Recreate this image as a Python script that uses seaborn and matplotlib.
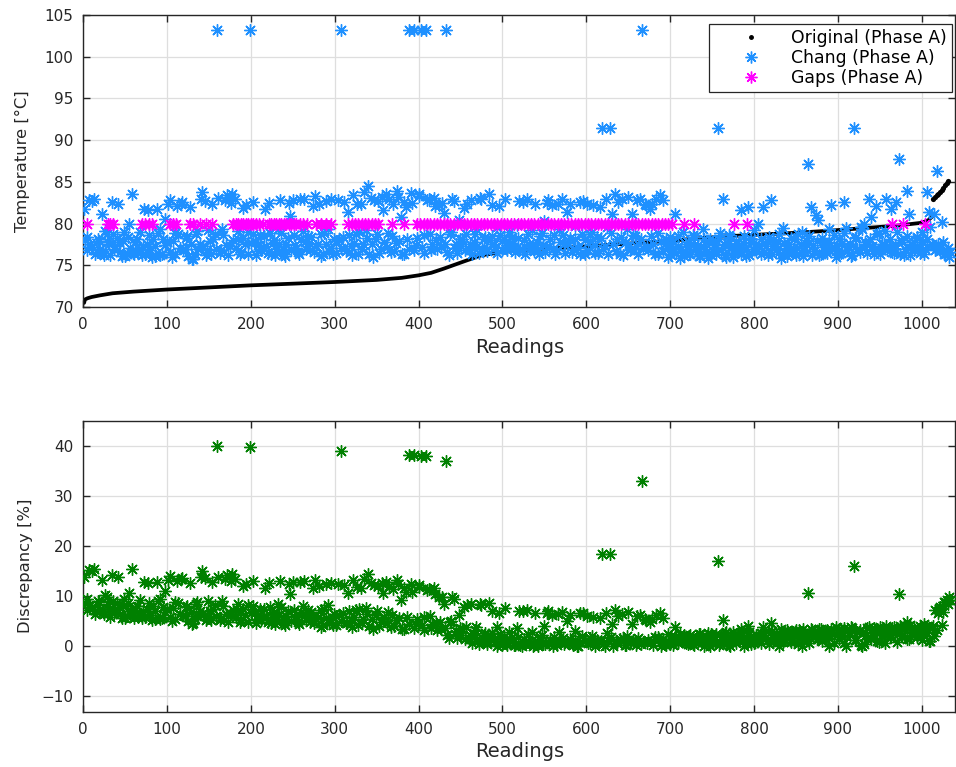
import numpy as np
import matplotlib
matplotlib.use("Agg")
import matplotlib.pyplot as plt
from matplotlib.lines import Line2D
import seaborn as sns

# ---- data ----

# Original (Phase A): sorted curve, read at its bends
orig_readings = [1, 2, 5, 10, 20, 35, 60, 100, 150, 200, 250, 300, 350, 380, 400,
                 415, 430, 455, 475, 500, 540, 590, 650, 700, 730, 770, 810, 850,
                 890, 930, 970, 1000, 1008, 1013]
orig_temp = [70.5, 70.9, 71.05, 71.2, 71.4, 71.65, 71.85, 72.1, 72.35, 72.6, 72.8,
             73.0, 73.25, 73.5, 73.8, 74.1, 74.6, 75.5, 76.2, 76.6, 76.95, 77.2,
             77.6, 77.95, 78.2, 78.5, 78.7, 78.9, 79.15, 79.45, 79.75, 80.1, 80.4, 80.9]
# the last readings jump up and show as separate dots
orig_tail_readings = [1014, 1016, 1018, 1020, 1022, 1024, 1026, 1028, 1030, 1031]
orig_tail_temp = [83.0, 83.2, 83.4, 83.6, 83.8, 84.0, 84.3, 84.6, 84.9, 85.1]

# Chang (Phase A) and discrepancy at readings 1, 4, 7, ...
readings_a = np.arange(1, 1036, 3)
chang_temp_a = [
    81.8, 78.4, 82.8, 77.2, 82.9, 76.6, 77.9, 81.2, 76.2, 78.8,
    77.5, 82.6, 76.9, 78.3, 77.8, 76.1, 79.0, 76.4, 79.9, 83.6,
    76.3, 78.1, 77.0, 76.2, 81.8, 77.6, 78.6, 76.0, 77.3, 81.8,
    79.3, 76.4, 80.6, 77.8, 82.8, 76.0, 78.9, 82.1, 77.1, 82.6,
    76.9, 78.5, 82.0, 75.7, 76.4, 79.1, 77.6, 83.8, 82.7, 76.8,
    77.9, 82.3, 78.7, 103.2, 76.5, 79.4, 82.8, 83.4, 77.3, 83.5,
    82.9, 78.2, 76.3, 81.9, 77.5, 79.0, 103.2, 82.6, 77.8, 76.7,
    78.6, 77.2, 81.8, 76.5, 78.9, 77.7, 76.2, 79.3, 82.8, 77.0,
    76.1, 78.3, 80.9, 82.8, 77.4, 76.6, 82.9, 79.1, 77.8, 78.5,
    76.8, 82.1, 83.3, 77.6, 78.7, 76.4, 82.7, 79.4, 77.1, 76.3,
    77.9, 82.8, 103.2, 78.4, 76.7, 81.4, 77.3, 83.4, 78.8, 76.4,
    82.3, 77.5, 79.2, 84.5, 83.1, 76.0, 78.2, 82.7, 77.0, 81.6,
    83.6, 78.9, 76.6, 82.4, 77.7, 83.2, 80.8, 76.3, 82.0, 103.2,
    83.7, 103.2, 77.4, 83.5, 103.2, 78.6, 103.2, 82.9, 76.8, 83.1,
    78.0, 82.2, 77.2, 81.3, 103.2, 76.2, 79.0, 82.7, 77.6, 80.4,
    77.3, 81.9, 78.8, 76.9, 82.8, 77.8, 79.3, 76.5, 82.9, 78.1,
    77.0, 83.5, 78.5, 77.6, 79.6, 82.1, 76.8, 78.2, 77.4, 79.0,
    78.4, 77.1, 79.8, 82.7, 76.9, 78.0, 82.9, 77.5, 79.2, 76.7,
    77.8, 76.4, 78.9, 80.3, 82.5, 77.3, 82.2, 78.6, 76.8, 79.4,
    82.9, 77.6, 81.4, 78.3, 76.6, 79.7, 77.2, 82.6, 78.8, 76.3,
    82.4, 77.9, 79.0, 76.5, 78.4, 82.0, 91.4, 77.3, 79.6, 91.4,
    81.2, 83.6, 78.1, 76.4, 83.0, 77.7, 79.3, 76.8, 81.2, 78.5,
    82.8, 83.0, 103.2, 82.4, 77.2, 81.8, 82.4, 76.3, 78.9, 83.4,
    82.8, 77.6, 76.0, 78.4, 76.9, 81.2, 77.3, 75.9, 79.0, 76.6,
    77.8, 76.3, 78.6, 76.9, 77.4, 76.1, 79.3, 77.0, 75.9, 78.1,
    76.7, 77.9, 91.4, 78.9, 82.9, 76.2, 77.5, 78.4, 76.0, 77.2,
    76.6, 81.6, 77.7, 76.1, 82.0, 78.2, 76.9, 77.5, 80.0, 76.4,
    82.0, 77.3, 76.2, 82.8, 78.0, 76.8, 77.9, 75.9, 79.5, 77.1,
    76.5, 78.3, 77.0, 76.2, 78.7, 77.6, 76.1, 78.0, 87.1, 82.0,
    77.4, 81.0, 80.4, 76.3, 77.8, 76.7, 79.3, 82.2, 77.1, 76.0,
    78.1, 76.5, 82.6, 79.5, 77.2, 76.1, 91.4, 78.4, 77.0, 79.6,
    80.0, 77.6, 82.9, 80.8, 76.4, 82.1, 78.9, 76.8, 77.5, 83.0,
    77.3, 81.8, 76.5, 82.6, 87.7, 78.0, 76.2, 83.9, 81.1, 77.4,
    76.8, 78.3, 77.1, 79.0, 76.4, 83.8, 81.4, 77.6, 81.2, 86.3,
    77.0, 80.2, 76.3, 76.5, 76.0,
]
discrepancy_a = [
    13.8, 9.4, 15.1, 7.8, 15.3, 7.1, 8.8, 13.1, 6.5, 9.9,
    7.5, 14.1, 6.7, 8.6, 7.9, 5.7, 9.5, 6.1, 10.6, 15.4,
    5.7, 8.0, 6.6, 5.6, 12.8, 7.4, 8.7, 5.3, 7.0, 12.8,
    9.4, 5.6, 11.0, 7.4, 13.9, 5.1, 8.8, 13.0, 6.5, 13.6,
    6.1, 8.1, 12.6, 4.5, 5.4, 8.9, 7.0, 14.9, 13.5, 5.9,
    7.1, 12.8, 8.2, 40.0, 5.3, 9.1, 13.4, 14.2, 6.4, 14.3,
    13.3, 7.2, 4.8, 12.0, 6.3, 8.3, 39.8, 12.9, 6.7, 5.3,
    7.5, 5.8, 11.6, 4.9, 7.9, 6.4, 4.5, 8.4, 12.9, 5.5,
    4.2, 7.0, 10.3, 12.7, 5.8, 4.8, 12.8, 8.0, 6.3, 7.2,
    4.8, 11.6, 13.1, 5.9, 7.3, 4.3, 12.4, 8.2, 5.2, 4.2,
    6.1, 12.3, 39.0, 6.7, 4.6, 10.6, 5.3, 13.1, 7.3, 4.2,
    11.5, 5.4, 7.6, 14.3, 12.5, 3.5, 6.3, 12.0, 4.8, 10.6,
    12.8, 6.8, 3.9, 11.3, 5.3, 12.3, 9.2, 3.5, 10.8, 38.2,
    12.3, 38.2, 4.4, 12.1, 37.9, 5.9, 37.9, 11.3, 3.6, 11.6,
    4.6, 9.8, 3.4, 8.4, 37.0, 1.7, 5.0, 9.4, 3.0, 6.3,
    2.3, 7.9, 3.9, 1.4, 8.5, 2.2, 3.9, 0.4, 8.2, 2.3,
    0.9, 8.7, 2.6, 1.4, 3.8, 6.7, 0.2, 1.9, 0.9, 2.8,
    1.9, 0.3, 3.6, 7.1, 0.1, 1.4, 7.3, 0.8, 2.8, 0.2,
    1.0, 0.7, 2.3, 4.0, 6.6, 0.4, 6.3, 1.9, 0.2, 2.9,
    6.9, 0.5, 5.1, 1.4, 0.7, 3.1, 0.1, 6.6, 2.0, 1.0,
    6.1, 0.7, 2.0, 1.0, 1.3, 5.6, 18.3, 0.1, 2.7, 18.3,
    4.4, 7.3, 0.7, 1.4, 6.5, 0.2, 2.1, 0.9, 4.4, 1.1,
    6.0, 6.2, 33.0, 5.5, 0.7, 4.8, 5.5, 1.8, 1.3, 6.7,
    5.7, 0.5, 2.4, 0.5, 1.3, 3.8, 0.8, 2.5, 1.2, 1.7,
    0.5, 2.3, 0.5, 1.5, 1.0, 2.5, 1.3, 1.4, 2.7, 0.1,
    2.0, 0.6, 17.0, 0.6, 5.3, 2.6, 1.1, 0.0, 2.8, 1.4,
    2.4, 3.5, 1.1, 3.0, 4.0, 0.5, 2.0, 1.3, 1.7, 2.6,
    3.8, 1.8, 3.1, 4.7, 0.9, 2.4, 1.1, 3.4, 0.8, 2.0,
    2.9, 0.8, 2.4, 3.3, 0.4, 1.6, 3.4, 1.2, 10.5, 3.5,
    2.1, 2.1, 1.4, 3.4, 1.6, 2.9, 0.1, 3.5, 2.5, 3.8,
    1.5, 3.4, 3.7, 0.1, 2.6, 3.9, 16.0, 1.2, 2.8, 0.2,
    0.5, 2.3, 3.9, 1.4, 3.7, 2.9, 0.8, 3.3, 2.5, 4.0,
    2.9, 2.3, 3.8, 3.3, 10.3, 2.1, 4.2, 4.8, 1.5, 2.8,
    3.7, 2.0, 3.4, 1.3, 4.4, 4.1, 1.1, 3.7, 2.1, 3.2,
    7.4, 4.2, 8.9, 9.2, 9.9,
]

# Chang (Phase A) and discrepancy at readings 2, 5, 8, ...
readings_b = np.arange(2, 1036, 3)
chang_temp_b = [
    78.0, 76.8, 77.6, 82.7, 76.3, 78.2, 77.0, 76.5, 79.1, 77.8,
    76.2, 78.7, 77.3, 82.3, 76.6, 77.9, 76.1, 78.4, 77.1, 76.5,
    77.8, 76.5, 79.0, 77.2, 76.4, 81.6, 76.8, 78.2, 76.1, 78.9,
    76.2, 78.1, 77.4, 82.3, 76.6, 77.9, 76.3, 78.7, 82.4, 76.9,
    78.3, 76.1, 77.5, 75.8, 78.8, 76.9, 82.9, 77.3, 76.2, 79.2,
    76.4, 78.1, 77.0, 83.1, 76.8, 78.6, 77.4, 76.2, 82.5, 78.0,
    77.1, 79.1, 76.6, 78.3, 82.2, 76.4, 77.7, 78.8, 76.2, 77.4,
    76.8, 78.5, 77.3, 82.5, 76.4, 78.0, 76.9, 77.6, 78.9, 76.3,
    77.6, 82.5, 76.8, 78.6, 77.1, 76.4, 78.2, 83.0, 76.9, 77.7,
    78.4, 76.6, 77.3, 82.4, 76.1, 78.9, 77.5, 76.7, 82.9, 78.1,
    76.5, 78.0, 77.1, 82.6, 76.8, 78.6, 76.2, 77.7, 82.3, 79.0,
    76.9, 83.8, 78.3, 76.4, 77.6, 82.8, 78.8, 76.5, 83.2, 77.8,
    77.2, 82.9, 78.5, 76.7, 83.9, 77.9, 76.3, 82.6, 78.1, 77.0,
    82.5, 76.8, 78.3, 83.3, 77.2, 76.5, 82.8, 78.7, 77.5, 82.1,
    76.9, 78.4, 82.5, 77.5, 76.6, 78.8, 83.0, 77.1, 76.5, 78.2,
    78.2, 76.8, 82.4, 77.6, 76.4, 78.7, 77.3, 83.1, 76.9, 78.4,
    76.7, 78.0, 82.2, 77.2, 76.5, 78.6, 77.9, 83.0, 76.8, 77.6,
    77.7, 76.6, 78.3, 77.0, 82.6, 76.4, 78.8, 77.3, 76.9, 82.4,
    76.9, 78.5, 77.4, 76.6, 82.8, 78.1, 77.0, 76.3, 82.3, 77.8,
    78.6, 76.5, 77.7, 82.4, 76.9, 78.2, 77.1, 76.4, 82.7, 78.0,
    76.8, 78.7, 82.2, 77.4, 76.5, 78.3, 77.0, 82.9, 76.3, 78.9,
    77.6, 76.7, 82.6, 78.4, 76.2, 77.8, 83.2, 76.9, 78.6, 77.3,
    76.4, 78.2, 77.1, 82.2, 76.8, 78.5, 77.6, 83.0, 76.3, 77.9,
    76.7, 78.2, 77.1, 76.2, 77.8, 76.5, 78.5, 77.0, 76.1, 77.5,
    76.4, 77.6, 78.4, 76.9, 76.1, 77.3, 78.1, 76.6, 77.8, 76.2,
    77.4, 76.3, 78.2, 76.8, 77.6, 76.0, 78.6, 77.1, 76.5, 77.9,
    77.2, 76.4, 78.5, 77.0, 76.2, 77.8, 79.2, 76.7, 77.4, 78.1,
    76.6, 77.9, 78.4, 76.3, 77.5, 76.9, 78.7, 76.4, 77.7, 76.1,
    77.6, 76.5, 78.2, 77.1, 76.3, 79.0, 76.8, 77.4, 78.5, 76.2,
    76.7, 77.9, 76.2, 78.3, 77.2, 76.5, 77.8, 76.9, 78.6, 77.3,
    76.4, 77.7, 78.9, 76.8, 77.5, 76.2, 78.3, 77.0, 76.6, 79.3,
    77.8, 76.5, 78.1, 77.3, 76.9, 78.7, 76.3, 77.6, 79.1, 76.8,
    78.2, 76.6, 77.4, 79.0, 76.4, 77.8, 76.9, 78.5, 76.2, 77.6,
    77.1, 78.4, 76.5, 77.8, 76.9, 78.1, 79.6, 77.3, 76.8, 77.5,
    76.7, 77.8, 76.4, 77.1, 76.6,
]
discrepancy_b = [
    8.7, 7.2, 8.2, 14.9, 6.5, 9.0, 7.4, 6.8, 10.2, 8.5,
    5.8, 9.1, 7.3, 13.7, 6.4, 8.0, 5.7, 8.7, 7.0, 6.2,
    7.6, 5.9, 9.2, 6.9, 5.8, 12.5, 6.3, 8.1, 5.4, 9.1,
    5.4, 7.8, 6.9, 13.2, 5.9, 7.6, 5.5, 8.6, 13.4, 6.3,
    7.9, 5.0, 6.8, 4.6, 8.5, 6.1, 13.8, 6.6, 5.2, 9.0,
    5.2, 7.4, 6.0, 13.8, 5.7, 8.0, 6.5, 4.9, 13.0, 7.3,
    5.8, 8.4, 5.2, 7.4, 12.4, 4.9, 6.6, 8.0, 4.7, 6.2,
    5.2, 7.4, 5.9, 12.5, 4.7, 6.8, 5.4, 6.3, 7.9, 4.6,
    6.1, 12.3, 5.0, 7.3, 5.4, 4.5, 6.8, 13.0, 5.2, 6.2,
    6.9, 4.6, 5.5, 12.0, 3.9, 7.5, 5.7, 4.7, 12.6, 6.5,
    4.3, 6.2, 5.1, 12.1, 4.7, 7.0, 3.9, 5.9, 11.7, 7.5,
    4.6, 13.4, 6.4, 4.0, 5.5, 12.1, 7.0, 4.1, 12.6, 5.8,
    4.7, 11.9, 6.3, 4.0, 13.2, 5.6, 3.5, 11.5, 5.8, 4.4,
    10.8, 3.6, 5.5, 11.8, 4.2, 3.3, 11.2, 6.0, 4.5, 10.3,
    3.2, 4.9, 9.9, 3.6, 2.3, 4.9, 9.9, 2.5, 1.6, 3.6,
    3.4, 1.5, 8.3, 2.2, 0.6, 3.3, 1.5, 8.5, 0.9, 2.6,
    0.5, 2.0, 7.0, 0.9, 0.0, 2.5, 1.6, 7.7, 0.2, 1.1,
    1.0, 0.3, 1.8, 0.2, 7.0, 0.5, 2.4, 0.5, 0.1, 6.7,
    0.1, 1.8, 0.5, 0.5, 7.0, 1.3, 0.0, 0.8, 6.4, 1.0,
    1.7, 0.8, 0.7, 6.3, 0.3, 1.3, 0.1, 0.9, 6.7, 1.0,
    0.7, 1.6, 5.8, 0.1, 1.0, 1.1, 0.4, 6.7, 1.3, 1.9,
    0.1, 1.0, 6.1, 1.0, 1.6, 0.3, 6.8, 0.8, 1.3, 0.3,
    1.7, 0.5, 0.8, 5.3, 1.2, 0.8, 0.2, 6.2, 1.8, 0.1,
    1.5, 0.2, 1.1, 2.1, 0.2, 1.8, 0.6, 1.2, 2.3, 0.6,
    2.1, 0.7, 0.2, 1.5, 2.5, 1.1, 0.1, 1.9, 0.5, 2.4,
    1.2, 2.5, 0.2, 1.9, 0.9, 2.8, 0.2, 1.5, 2.3, 0.6,
    1.7, 2.6, 0.1, 1.9, 2.8, 0.9, 0.7, 2.2, 1.4, 0.6,
    2.6, 1.1, 0.5, 3.0, 1.5, 2.2, 0.1, 2.8, 1.3, 3.2,
    1.6, 2.9, 0.9, 2.2, 3.2, 0.0, 2.6, 1.9, 0.6, 3.3,
    2.9, 1.5, 3.5, 1.1, 2.3, 3.2, 1.6, 2.7, 0.7, 2.2,
    3.5, 2.0, 0.6, 3.0, 2.2, 3.7, 1.3, 2.8, 3.3, 0.1,
    2.1, 3.6, 1.8, 2.7, 3.2, 1.1, 3.9, 2.3, 0.6, 3.3,
    1.9, 3.7, 2.8, 0.9, 4.0, 2.3, 3.4, 1.5, 4.2, 2.6,
    3.3, 1.9, 4.1, 2.7, 3.8, 2.6, 1.0, 4.1, 7.2, 6.7,
    7.9, 6.9, 8.9, 8.5, 9.3,
]

# Gaps (Phase A): readings that were filled, all sit on the 80 degC level
gap_readings = [
    4, 29, 32, 35, 70, 74, 78, 82, 103, 107, 111, 127, 131, 139, 146, 153,
    179, 182, 185, 188, 191, 194, 197, 200, 203, 206, 210, 214,
    221, 224, 227, 230, 233, 236, 239, 242, 245, 248, 251, 254, 258, 262, 267,
    278, 284, 290, 296,
    316, 320, 324, 328, 332, 336, 340, 344, 348, 352, 368, 382,
    398, 402, 406, 410, 414, 418, 422, 426, 430, 434, 438, 442, 446, 450,
    454, 458, 462, 466, 470, 474, 478, 482, 486, 490, 494, 498, 502, 506,
    510, 514, 518, 522, 526, 530, 534, 538, 542, 546, 550, 554, 558, 562,
    566, 570, 574, 578, 582, 586, 590, 594, 598, 602, 606, 610, 614, 618,
    622, 626, 630, 634, 638, 642, 646, 650, 654, 658, 662, 666, 670, 674,
    678, 682, 686, 690, 694, 698, 702,
    716, 728, 776, 792, 965, 978, 1004,
]
gap_level = 80.0

legend_labels = ["Original (Phase A)", "Chang (Phase A)", "Gaps (Phase A)"]

# ---- style ----
INK = "#262626"
BLUE = "#1E90FF"
MAGENTA = "#FF00FF"
GREEN = "#008000"
STAR = (8, 2, 0)  # 8-spoke asterisk like MATLAB '*'

sns.set_theme(style="ticks")
plt.rcParams["font.family"] = ["DejaVu Sans"]

fig = plt.figure(figsize=(9.56, 7.67), dpi=100)
ax1 = fig.add_axes([0.0871, 0.5997, 0.912, 0.3807])
ax2 = fig.add_axes([0.0871, 0.0721, 0.912, 0.3794])


def style_axes(ax):
    ax.set_xlim(0, 1040)
    ax.set_xticks(np.arange(0, 1001, 100))
    ax.grid(True, color="#dedede", linewidth=0.9)
    ax.set_axisbelow(True)
    ax.tick_params(direction="in", top=True, right=True, length=5, width=1.0,
                   colors=INK, labelsize=11)
    ax.tick_params(axis="x", pad=7.5)
    ax.tick_params(axis="y", pad=7)
    for sp in ax.spines.values():
        sp.set_color(INK)
        sp.set_linewidth(1.0)
    ax.set_xlabel("Readings", fontsize=14, color=INK)
    ax.xaxis.set_label_coords(0.5, -0.105)


all_readings = np.concatenate([readings_a, readings_b])
all_chang = np.concatenate([chang_temp_a, chang_temp_b])
all_disc = np.concatenate([discrepancy_a, discrepancy_b])

# ---- top: temperatures ----
ax1.plot(orig_readings, orig_temp, color="black", linewidth=2.7,
         solid_capstyle="round", zorder=2)
sns.scatterplot(x=orig_tail_readings, y=orig_tail_temp, color="black", s=14,
                linewidth=0, ax=ax1, zorder=2)
sns.scatterplot(x=all_readings, y=all_chang, marker=STAR, s=72, color=BLUE,
                linewidth=1.0, ax=ax1, zorder=3)
sns.scatterplot(x=gap_readings, y=[gap_level] * len(gap_readings), marker=STAR,
                s=72, color=MAGENTA, linewidth=1.0, ax=ax1, zorder=4)

style_axes(ax1)
ax1.set_ylim(70, 105)
ax1.set_yticks(np.arange(70, 106, 5))
ax1.set_ylabel("Temperature [°C]", fontsize=11.8, color=INK)
ax1.yaxis.set_label_coords(-0.061, 0.5)

handles = [
    Line2D([], [], color="black", marker=".", linestyle="none", markersize=5),
    Line2D([], [], color=BLUE, marker=STAR, linestyle="none", markersize=8.5, markeredgewidth=1.0),
    Line2D([], [], color=MAGENTA, marker=STAR, linestyle="none", markersize=8.5, markeredgewidth=1.0),
]
leg = ax1.legend(handles, legend_labels, loc="upper right",
                 bbox_to_anchor=(0.9958, 0.9687), bbox_transform=fig.transFigure,
                 borderaxespad=0, fancybox=False, framealpha=1, edgecolor=INK,
                 fontsize=12.4, handlelength=4.2, handletextpad=0.25,
                 labelspacing=0.12, borderpad=0.3)
leg.get_frame().set_linewidth(0.9)
for t in leg.get_texts():
    t.set_color("black")

# ---- bottom: discrepancy ----
sns.scatterplot(x=all_readings, y=all_disc, marker=STAR, s=72, color=GREEN,
                linewidth=1.0, ax=ax2, zorder=3)

style_axes(ax2)
ax2.set_ylim(-13.1, 45)
ax2.set_yticks(np.arange(-10, 41, 10))
ax2.set_ylabel("Discrepancy [%]", fontsize=11.8, color=INK)
ax2.yaxis.set_label_coords(-0.0577, 0.5)

plt.savefig("out.png", dpi=100)
